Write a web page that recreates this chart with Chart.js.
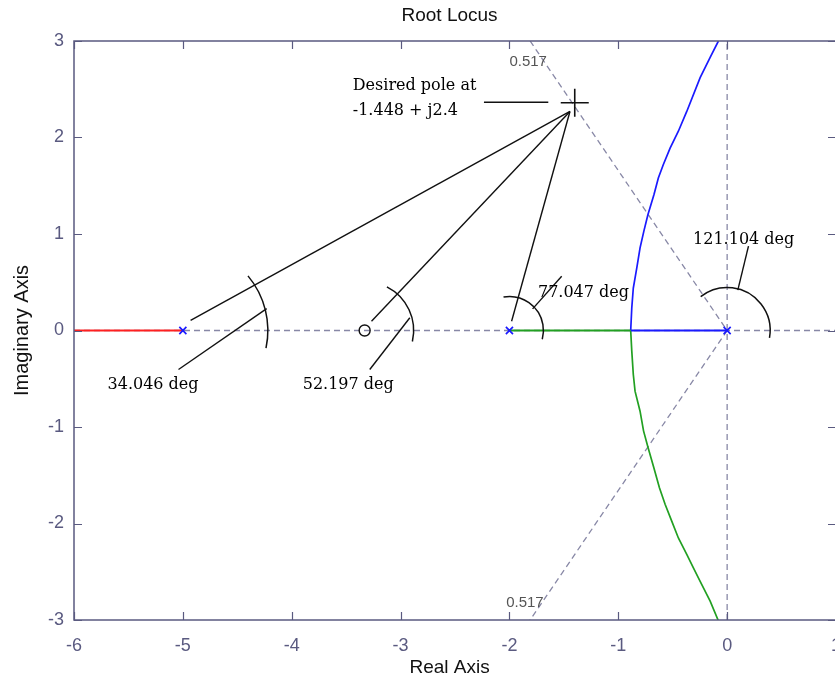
<!DOCTYPE html>
<html><head><meta charset="utf-8">
<script src="https://cdn.jsdelivr.net/npm/chart.js@4.4.0/dist/chart.umd.min.js"></script>
<style>
html,body{margin:0;padding:0;background:#fff;overflow:hidden;width:835px;height:686px}
#wrap{position:absolute;left:0;top:0;width:880px;height:686px}
</style>
</head><body><div id="wrap"><canvas id="c" width="880" height="686"></canvas></div>
<script>
// ---- data ----
const xTickValues = [-6, -5, -4, -3, -2, -1, 0, 1];
const xTickLabels = ['-6', '-5', '-4', '-3', '-2', '-1', '0', '1'];
const yTickValues = [-3, -2, -1, 0, 1, 2, 3];
const yTickLabels = ['-3', '-2', '-1', '0', '1', '2', '3'];

const poleX = [-5, -2, 0];
const poleY = [0, 0, 0];
const zeroX = [-3.33];
const zeroY = [0];
const desiredX = [-1.40];
const desiredY = [2.36];

const redX = [-6, -5];
const redY = [0, 0];
const greenRealX = [-2, -0.886];
const greenRealY = [0, 0];
const blueRealX = [0, -0.886];
const blueRealY = [0, 0];
const blueUpperX = [-0.886, -0.876, -0.862, -0.830, -0.800, -0.765, -0.728, -0.672, -0.632, -0.586, -0.524, -0.448, -0.371, -0.248, -0.156, -0.080];
const blueUpperY = [0, 0.235, 0.44, 0.65, 0.857, 1.03, 1.20, 1.41, 1.58, 1.72, 1.89, 2.065, 2.27, 2.62, 2.83, 3.0];
const greenLowerX = [-0.886, -0.876, -0.862, -0.846, -0.800, -0.768, -0.726, -0.674, -0.622, -0.570, -0.509, -0.448, -0.371, -0.310, -0.248, -0.156, -0.080];
const greenLowerY = [0, -0.214, -0.456, -0.629, -0.836, -1.04, -1.216, -1.42, -1.63, -1.80, -1.976, -2.15, -2.32, -2.46, -2.60, -2.805, -3.01];

const zetaX = [-1.81, 0, -1.81];
const zetaY = [3, 0, -3];
const realAxisX = [-6, 1];
const realAxisY = [0, 0];
const imagAxisX = [0, 0];
const imagAxisY = [-3, 3];

const lineP5X = [-4.929, -1.444];
const lineP5Y = [0.104, 2.27];
const lineZX = [-3.267, -1.444];
const lineZY = [0.096, 2.27];
const lineP2X = [-1.980, -1.444];
const lineP2Y = [0.096, 2.27];
const leader34X = [-5.04, -4.23];
const leader34Y = [-0.404, 0.226];
const leader52X = [-3.283, -2.915];
const leader52Y = [-0.404, 0.132];
const leader77X = [-1.52, -1.787];
const leader77Y = [0.563, 0.224];
const leader121X = [0.196, 0.098];
const leader121Y = [0.874, 0.418];
const leaderDesX = [-2.234, -1.643];
const leaderDesY = [2.366, 2.366];

const angleLabels = ['Desired pole at', '-1.448 + j2.4', '34.046 deg', '52.197 deg', '77.047 deg', '121.104 deg'];
const zetaLabel = '0.517';

// ---- helpers ----
const pts = (xs, ys) => xs.map((x, i) => ({x: x, y: ys[i]}));
const AXIS = '#5a5a80';
const DASH = '#8888a6';

function lineDs(xs, ys, color, width, order, dash) {
  return {data: pts(xs, ys), showLine: true, borderColor: color, borderWidth: width, order: order,
          borderDash: dash || [], pointRadius: 0, fill: false, tension: 0};
}

const annot = {
  id: 'annot',
  afterDatasetsDraw(chart) {
    const ctx = chart.ctx, xs = chart.scales.x, ys = chart.scales.y;
    const px = v => xs.getPixelForValue(v), py = v => ys.getPixelForValue(v);
    const arcs = [
      {cx: poleX[0], r: 85, a0: -40, a1: 12},
      {cx: zeroX[0], r: 49, a0: -63, a1: 13},
      {cx: poleX[1], r: 34, a0: -100, a1: 15},
      {cx: poleX[2], r: 43, a0: -128, a1: 10}
    ];
    ctx.save();
    ctx.strokeStyle = '#111';
    ctx.lineWidth = 1.5;
    arcs.forEach(a => {
      ctx.beginPath();
      ctx.arc(px(a.cx), py(0), a.r, a.a0 * Math.PI / 180, a.a1 * Math.PI / 180);
      ctx.stroke();
    });
    ctx.fillStyle = '#000';
    ctx.font = '16px "DejaVu Serif"';
    ctx.textBaseline = 'middle';
    ctx.textAlign = 'left';
    const tpos = [[-3.439, 2.539], [-3.439, 2.28], [-5.692, -0.56], [-3.899, -0.56], [-1.738, 0.394], [-0.313, 0.943]];
    angleLabels.forEach((t, i) => ctx.fillText(t, px(tpos[i][0]), py(tpos[i][1])));
    ctx.fillStyle = '#555';
    ctx.font = '15px "Liberation Sans"';
    ctx.fillText(zetaLabel, px(-2.0), py(2.788));
    ctx.fillText(zetaLabel, px(-2.03), py(-2.819));
    ctx.restore();
  },
  afterDraw(chart) {
    const ctx = chart.ctx, a = chart.chartArea, xs = chart.scales.x, ys = chart.scales.y;
    ctx.save();
    ctx.strokeStyle = AXIS;
    ctx.lineWidth = 1.5;
    ctx.strokeRect(a.left, a.top, a.right - a.left, a.bottom - a.top);
    ctx.lineWidth = 1.2;
    ctx.beginPath();
    xTickValues.forEach(v => {
      const p = Math.round(xs.getPixelForValue(v)) + 0.5;
      ctx.moveTo(p, a.bottom); ctx.lineTo(p, a.bottom - 8);
      ctx.moveTo(p, a.top); ctx.lineTo(p, a.top + 8);
    });
    yTickValues.forEach(v => {
      const p = Math.round(ys.getPixelForValue(v)) + 0.5;
      ctx.moveTo(a.left, p); ctx.lineTo(a.left + 8, p);
      ctx.moveTo(a.right, p); ctx.lineTo(a.right - 8, p);
    });
    ctx.stroke();
    ctx.fillStyle = '#111';
    ctx.font = '19px "Liberation Sans"';
    ctx.textAlign = 'center';
    ctx.textBaseline = 'middle';
    const cx = xs.getPixelForValue(-2.55);
    ctx.fillText('Root Locus', cx, 16);
    ctx.fillText('Real Axis', cx, 668);
    ctx.translate(22, ys.getPixelForValue(0));
    ctx.rotate(-Math.PI / 2);
    ctx.font = '20px "Liberation Sans"';
    ctx.fillText('Imaginary Axis', 0, 0);
    ctx.restore();
  }
};

new Chart(document.getElementById('c'), {
  type: 'scatter',
  data: {
    datasets: [
      {data: pts(poleX, poleY), order: 0, pointStyle: 'crossRot', pointRadius: 5, borderColor: '#1a1aff', borderWidth: 1.7, showLine: false},
      {data: pts(zeroX, zeroY), order: 0, pointStyle: 'circle', pointRadius: 5.5, borderColor: '#111', backgroundColor: 'rgba(0,0,0,0)', borderWidth: 1.4, showLine: false},
      {data: pts(desiredX, desiredY), order: 0, pointStyle: 'cross', pointRadius: 14, borderColor: '#111', borderWidth: 1.6, showLine: false},
      lineDs(lineP5X, lineP5Y, '#111', 1.4, 1),
      lineDs(lineZX, lineZY, '#111', 1.4, 1),
      lineDs(lineP2X, lineP2Y, '#111', 1.4, 1),
      lineDs(leader34X, leader34Y, '#111', 1.4, 1),
      lineDs(leader52X, leader52Y, '#111', 1.4, 1),
      lineDs(leader77X, leader77Y, '#111', 1.4, 1),
      lineDs(leader121X, leader121Y, '#111', 1.4, 1),
      lineDs(leaderDesX, leaderDesY, '#111', 1.4, 1),
      lineDs(redX, redY, '#ff2020', 2, 2),
      lineDs(greenRealX, greenRealY, '#22a022', 2, 2),
      lineDs(blueRealX, blueRealY, '#1a1aff', 2, 2),
      lineDs(blueUpperX, blueUpperY, '#1a1aff', 1.7, 2),
      lineDs(greenLowerX, greenLowerY, '#22a022', 1.7, 2),
      lineDs(realAxisX, realAxisY, DASH, 1.3, 3, [6, 4]),
      lineDs(imagAxisX, imagAxisY, DASH, 1.3, 3, [6, 4]),
      lineDs(zetaX, zetaY, DASH, 1.3, 3, [6, 4])
    ]
  },
  options: {
    responsive: false,
    devicePixelRatio: 1,
    animation: false,
    events: [],
    layout: {padding: {left: 0, right: 44, top: 41, bottom: 0}},
    plugins: {legend: {display: false}, tooltip: {enabled: false}, title: {display: false}},
    scales: {
      x: {
        type: 'linear', min: -6, max: 1,
        afterFit: s => { s.height = 66; },
        afterBuildTicks: s => { s.ticks = xTickValues.map(v => ({value: v})); },
        ticks: {callback: v => xTickLabels[xTickValues.indexOf(v)], color: AXIS, padding: 15,
                font: {family: 'Liberation Sans', size: 18}, maxRotation: 0, autoSkip: false},
        grid: {display: false, drawTicks: false},
        border: {display: false}
      },
      y: {
        type: 'linear', min: -3, max: 3,
        afterFit: s => { s.width = 74; },
        afterBuildTicks: s => { s.ticks = yTickValues.map(v => ({value: v})); },
        ticks: {callback: v => yTickLabels[yTickValues.indexOf(v)], color: AXIS, padding: 10,
                font: {family: 'Liberation Sans', size: 18}, autoSkip: false},
        grid: {display: false, drawTicks: false},
        border: {display: false}
      }
    }
  },
  plugins: [annot]
});
</script>
</body></html>
